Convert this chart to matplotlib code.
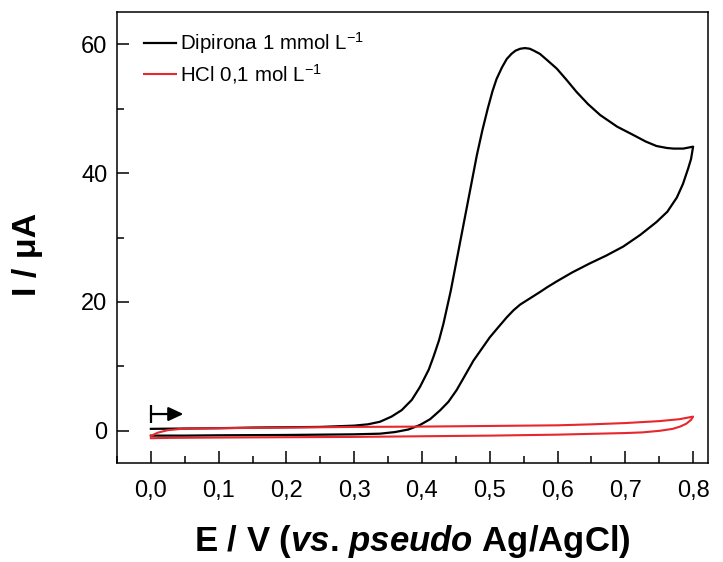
import matplotlib
matplotlib.use("Agg")
import matplotlib.pyplot as plt
from matplotlib.ticker import MultipleLocator, FixedLocator, FixedFormatter

plt.rcParams['font.family'] = ['Liberation Sans', 'DejaVu Sans']
plt.rcParams['mathtext.fontset'] = 'custom'
plt.rcParams['mathtext.rm'] = 'Liberation Sans'
plt.rcParams['mathtext.it'] = 'Liberation Sans:italic:bold'
plt.rcParams['mathtext.bf'] = 'Liberation Sans:bold'

# ---- data ----
dip_fwd_E = [0.0, 0.05, 0.10, 0.15, 0.20, 0.25, 0.30, 0.32, 0.338, 0.355, 0.37, 0.385,
             0.397, 0.41, 0.417, 0.425, 0.4316, 0.4424, 0.451, 0.466, 0.481, 0.489,
             0.497, 0.504, 0.51, 0.518, 0.525, 0.532, 0.538, 0.545, 0.552, 0.559,
             0.565, 0.574, 0.585, 0.599, 0.613, 0.628, 0.645, 0.663, 0.688, 0.712,
             0.73, 0.746, 0.761, 0.771, 0.7856, 0.80]
dip_fwd_I = [0.3, 0.35, 0.4, 0.5, 0.55, 0.6, 0.8, 1.0, 1.4, 2.2, 3.2, 4.8,
             6.8, 9.5, 11.5, 14.0, 16.6, 21.7, 26.4, 34.6, 42.8, 46.6,
             50.0, 52.7, 54.6, 56.4, 57.7, 58.5, 59.0, 59.3, 59.4, 59.3,
             59.0, 58.5, 57.5, 56.2, 54.5, 52.6, 50.7, 49.0, 47.2, 45.9,
             44.9, 44.2, 43.9, 43.8, 43.8, 44.1]
dip_rev_E = [0.80, 0.797, 0.793, 0.785, 0.776, 0.762, 0.746, 0.722, 0.697, 0.672, 0.648,
             0.622, 0.599, 0.585, 0.575, 0.560, 0.545, 0.535, 0.525, 0.512, 0.50, 0.488,
             0.476, 0.463, 0.451, 0.439, 0.427, 0.412, 0.397, 0.38, 0.36, 0.338, 0.30,
             0.20, 0.10, 0.05, 0.0]
dip_rev_I = [44.1, 42.2, 40.8, 38.3, 36.2, 34.0, 32.4, 30.4, 28.6, 27.2, 26.0,
             24.6, 23.2, 22.3, 21.6, 20.6, 19.6, 18.7, 17.6, 16.0, 14.5, 12.7,
             10.9, 8.5, 6.3, 4.5, 3.2, 1.8, 0.9, 0.2, -0.2, -0.45, -0.55,
             -0.65, -0.7, -0.75, -0.75]

hcl_fwd_E = [0.0, 0.01, 0.025, 0.05, 0.10, 0.20, 0.30, 0.40, 0.50, 0.60, 0.65, 0.70,
             0.75, 0.78, 0.80]
hcl_fwd_I = [-0.8, -0.3, 0.1, 0.35, 0.4, 0.5, 0.6, 0.65, 0.75, 0.85, 1.0, 1.2,
             1.5, 1.8, 2.2]
hcl_rev_E = [0.80, 0.797, 0.79, 0.781, 0.77, 0.751, 0.725, 0.70, 0.60, 0.50, 0.40,
             0.30, 0.20, 0.10, 0.03, 0.0]
hcl_rev_I = [2.2, 1.7, 1.1, 0.66, 0.3, 0.0, -0.25, -0.35, -0.6, -0.75, -0.85,
             -0.95, -1.0, -1.05, -1.1, -1.15]

series_labels = ['Dipirona 1 mmol L$^{-1}$', 'HCl 0,1 mol L$^{-1}$']
x_ticks = [0.0, 0.1, 0.2, 0.3, 0.4, 0.5, 0.6, 0.7, 0.8]
x_tick_labels = ['0,0', '0,1', '0,2', '0,3', '0,4', '0,5', '0,6', '0,7', '0,8']
y_ticks = [0, 20, 40, 60]
y_tick_labels = ['0', '20', '40', '60']
arrow_E = [0.0, 0.048]
arrow_I = 2.6

# ---- figure ----
fig = plt.figure(figsize=(7.23, 5.62), dpi=100)
ax = fig.add_axes([117/723, 99/562, 591/723, 451/562])

ax.plot(dip_fwd_E + dip_rev_E, dip_fwd_I + dip_rev_I, color='black', lw=1.6,
        label=series_labels[0], solid_joinstyle='round')
ax.plot(hcl_fwd_E + hcl_rev_E, hcl_fwd_I + hcl_rev_I, color='#e8262b', lw=1.5,
        label=series_labels[1], solid_joinstyle='round')

# scan direction arrow
ax.annotate('', xy=(arrow_E[1], arrow_I), xytext=(arrow_E[0], arrow_I),
            arrowprops=dict(arrowstyle='-|>,head_length=0.9,head_width=0.42',
                            color='black', lw=1.6, shrinkA=0, shrinkB=0))
ax.plot([arrow_E[0]], [arrow_I], marker='|', ms=13, mew=1.6, color='black')

ax.set_xlim(-0.05, 0.822)
ax.set_ylim(-5, 65)

ax.xaxis.set_major_locator(FixedLocator(x_ticks))
ax.xaxis.set_major_formatter(FixedFormatter(x_tick_labels))
ax.xaxis.set_minor_locator(MultipleLocator(0.05))
ax.yaxis.set_major_locator(FixedLocator(y_ticks))
ax.yaxis.set_major_formatter(FixedFormatter(y_tick_labels))
ax.yaxis.set_minor_locator(MultipleLocator(10))

ax.tick_params(which='both', direction='in', width=1.1, labelsize=17)
ax.tick_params(which='major', length=8.5)
ax.tick_params(which='minor', length=5)
ax.tick_params(axis='x', which='major', pad=12)
ax.tick_params(axis='y', which='major', pad=7)
for s in ax.spines.values():
    s.set_linewidth(1.1)

ax.set_xlabel(r'E / V ($\mathit{vs}$. $\mathit{pseudo}$ Ag/AgCl)', fontsize=25,
              fontweight='bold', labelpad=15)
ax.set_ylabel('I / μA', fontsize=24.5, fontweight='bold', labelpad=27)
ax.yaxis.label.set_y(0.462)

leg = ax.legend(loc='upper left', bbox_to_anchor=(0.031, 0.978), frameon=False,
                fontsize=14.8, handlelength=1.6, handletextpad=0.15, labelspacing=0.3,
                borderaxespad=0)

fig.savefig('out.png', dpi=100)
